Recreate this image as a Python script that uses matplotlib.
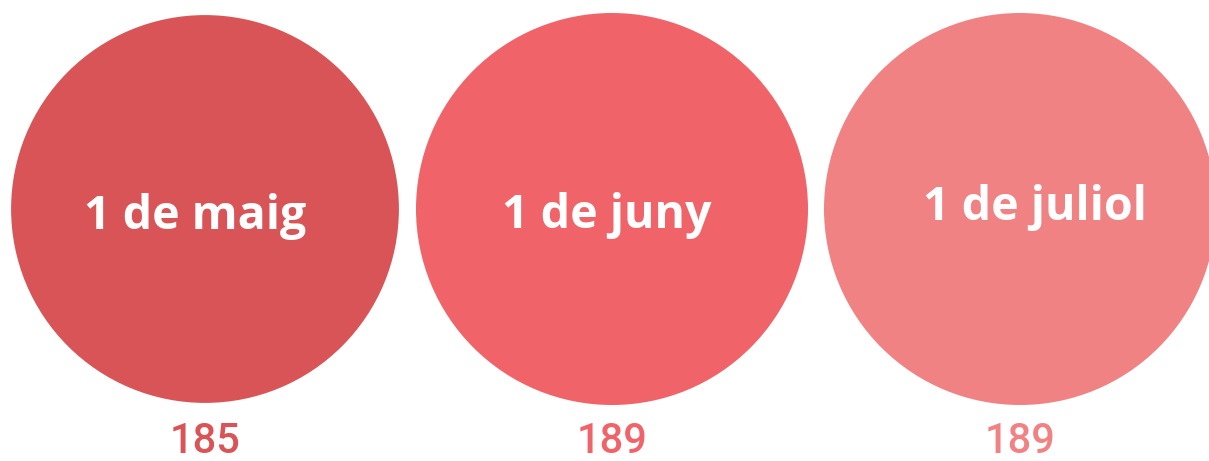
import numpy as np
import matplotlib.pyplot as plt
from matplotlib.patches import Circle

labels = ['1 de maig', '1 de juny', '1 de juliol']
values = [185, 189, 189]
colors = ['#D95457', '#F06368', '#F08283']

W, H = 1209, 461
fig = plt.figure(figsize=(W / 100, H / 100), dpi=100)
ax = fig.add_axes([0, 0, 1, 1])
ax.set_xlim(0, W)
ax.set_ylim(H, 0)
ax.set_aspect('equal')
ax.axis('off')

centers_x = [205, 612, 1020]
cy = 209
scale = 196 / np.sqrt(max(values))
label_dx = [-10, -5, 15]
label_dy = [7, 6, -2]

for i, (lab, val, col) in enumerate(zip(labels, values, colors)):
    r = scale * np.sqrt(val)
    ax.add_patch(Circle((centers_x[i], cy), r, color=col, lw=0))
    ax.text(centers_x[i] + label_dx[i], cy + label_dy[i], lab, color='white',
            fontsize=33.5, fontweight='bold', family='Open Sans',
            ha='center', va='center')
    ax.text(centers_x[i], 441, str(val), color=col, fontsize=30,
            fontweight='medium', family='Roboto', ha='center', va='center')

fig.savefig('out.png', dpi=100)
